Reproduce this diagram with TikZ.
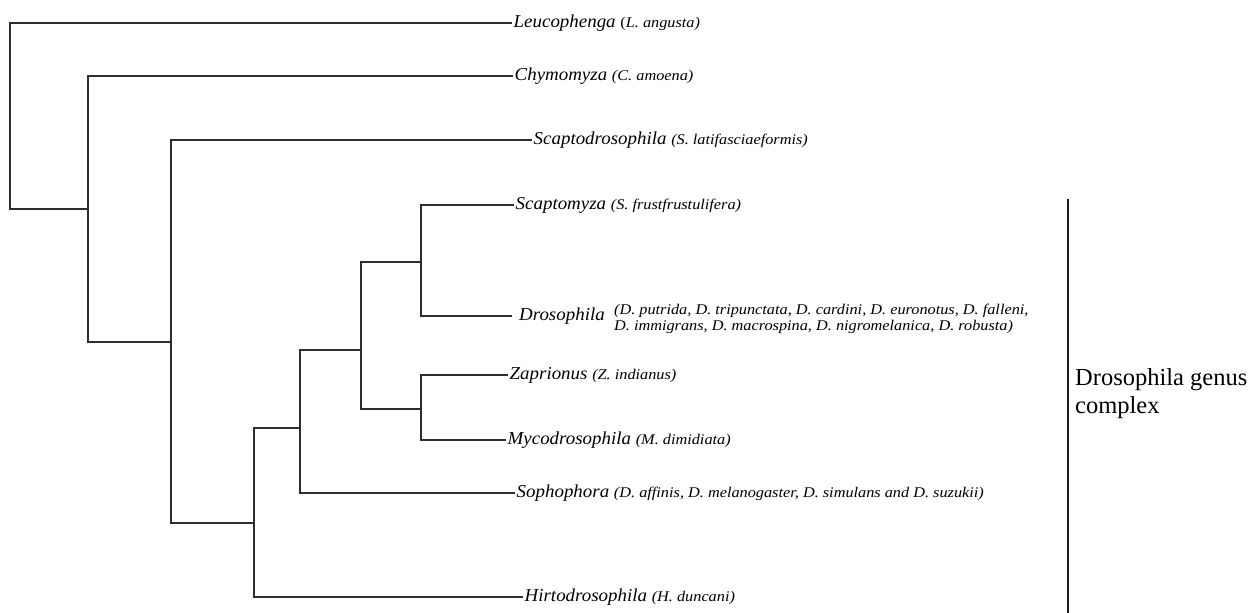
\documentclass[tikz,border=0pt]{standalone}
\usepackage{fontspec}
\setmainfont{Liberation Serif}
\newfontfamily\genfont[FakeStretch=1.04]{Liberation Serif}
\newfontfamily\sppfont[FakeStretch=1.1]{Liberation Serif}
\newfontfamily\grpfont{Liberation Serif}
\usepackage{tikz}
\usetikzlibrary{positioning}
\definecolor{treegray}{HTML}{2E2E2E}
\newcommand{\gen}[1]{{\genfont\itshape\fontsize{18.2}{20}\selectfont #1}}
\newcommand{\spp}[1]{{\sppfont\itshape\fontsize{14.8}{16}\selectfont #1}}

\begin{document}
\begin{tikzpicture}[
  x=1pt, y=-1pt,
  branch/.style={draw=treegray, line width=1.3pt},
  leaf/.style={anchor=west, inner xsep=1.5pt, inner ysep=0pt, text height=9pt, text depth=0pt,
               font=\genfont\itshape\fontsize{18.2}{20}\selectfont},
  sppblock/.style={align=left, inner sep=0pt, font=\sppfont\itshape\fontsize{14.8}{15.5}\selectfont},
  grp/.style={anchor=west, align=left, inner sep=0pt, font=\grpfont\fontsize{24.5}{28}\selectfont},
  bar/.style={draw=black!90, line width=2.2pt},
]
\useasboundingbox (0,0) rectangle (1253,613);

% ---- leaves ----
\node[leaf] (leu) at (512,23)  {\gen{Leucophenga} \spp{\textup{(}L. angusta)}};
\node[leaf] (chy) at (513,76)  {\gen{Chymomyza} \spp{(C. amoena)}};
\node[leaf] (scd) at (532,140) {\gen{Scaptodrosophila} \spp{(S. latifasciaeformis)}};
\node[leaf] (scm) at (514,205) {\gen{Scaptomyza} \spp{(S. frustfrustulifera)}};
\node[leaf, inner xsep=7pt] (dro) at (512,316) {\gen{Drosophila}};
\node[sppblock, right=2pt of dro, yshift=-3pt] (drospp)
  {(D. putrida, D. tripunctata\textup{,} D. cardini, D. euronotus, D. falleni,\\
   D. immigrans, D. macrospina, D. nigromelanica, D. robusta)};
\node[leaf] (zap) at (508,375) {\gen{Zaprionus} \spp{(Z. indianus)}};
\node[leaf] (myc) at (506,440) {\gen{Mycodrosophila} \spp{(M. dimidiata)}};
\node[leaf] (sop) at (515,493) {\gen{Sophophora} \spp{(D. affinis\textup{,} D. melanogaster, D. simulans and D. suzukii)}};
\node[leaf] (hir) at (523,597) {\gen{Hirtodrosophila} \spp{(H. duncani)}};

% ---- internal nodes (where the parent joins) ----
\coordinate (root) at (10,116);
\coordinate (n2) at (88,209);
\coordinate (n3) at (171,342);
\coordinate (n4) at (254,523);
\coordinate (n5) at (300,428);
\coordinate (n6) at (361,350);
\coordinate (n7) at (421,262);
\coordinate (n8) at (421,409);

% ---- branches ----
\draw[branch] (leu.west) -| (root) |- (n2);
\draw[branch] (chy.west) -| (n2) |- (n3);
\draw[branch] (scd.west) -| (n3) |- (n4);
\draw[branch] (n5) -| (n4) |- (hir.west);
\draw[branch] (n6) -| (n5) |- (sop.west);
\draw[branch] (n7) -| (n6) |- (n8);
\draw[branch] (scm.west) -| (n7) |- (dro.west);
\draw[branch] (zap.west) -| (n8) |- (myc.west);

% ---- genus complex bracket ----
\coordinate (bartop) at (1068,199);
\coordinate (barbot) at (1068,613);
\draw[bar] (bartop) -- (barbot);
\node[grp] (gcx) at (1075,394) {Drosophila genus\\complex};
\end{tikzpicture}
\end{document}
